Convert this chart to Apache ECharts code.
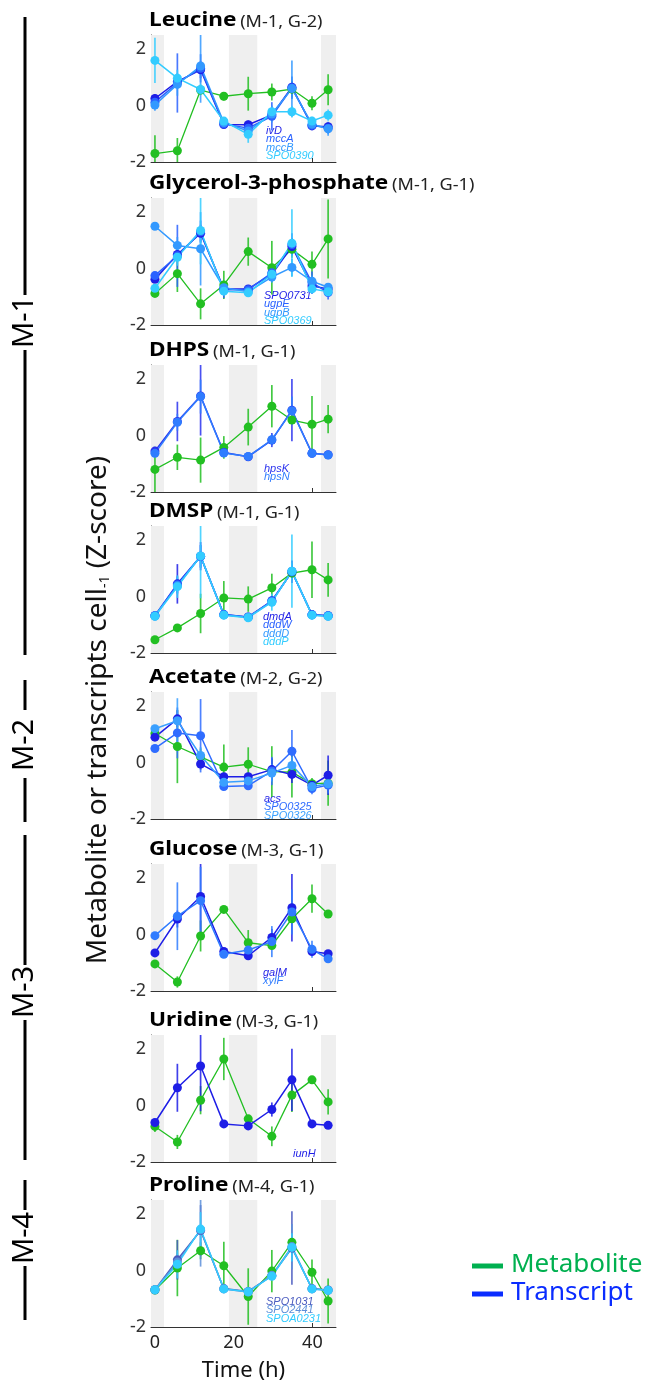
<!DOCTYPE html>
<html>
<head>
<meta charset="utf-8">
<script src="https://cdn.jsdelivr.net/npm/echarts@6/dist/echarts.min.js"></script>
<style>
  html, body { margin: 0; padding: 0; background: #fff; }
  #chart { width: 652px; height: 1385px; }
</style>
</head>
<body>
<div id="chart"></div>
<script>
// sampling times (h) and dark periods
var times = [0, 5.7, 11.6, 17.5, 23.7, 29.7, 34.8, 39.9, 44];
var nightBands = [[-1, 2.3], [18.8, 26], [42.2, 46]];
var xTicks = [0, 20, 40];
var yTicks = [-2, 0, 2];

// Leucine
var leuMet = [-1.7, -1.6, 0.55, 0.33, 0.42, 0.48, 0.58, 0.08, 0.56];
var leuMetErr = [0.65, 0.45, 0.15, 0.15, 0.6, 0.3, 0.3, 0.25, 0.55];
var leuGenes = ['ivD', 'mccA', 'mccB', 'SPO0390'];
var leuTx = [
  [0.25, 0.85, 1.27, -0.67, -0.68, -0.33, 0.65, -0.72, -0.75],
  [0.12, 0.8, 1.32, -0.65, -0.8, -0.38, 0.63, -0.7, -0.8],
  [0.02, 0.75, 1.4, -0.6, -0.9, -0.3, 0.6, -0.66, -0.82],
  [1.6, 0.97, 0.57, -0.55, -1.02, -0.22, -0.22, -0.55, -0.34]
];
var leuTxErr = [
  [0.15, 0.2, 0.3, 0.1, 0.15, 0.1, 0.2, 0.1, 0.1],
  [0.2, 1.05, 0.5, 0.1, 0.2, 0.5, 0.4, 0.15, 0.2],
  [0.2, 0.4, 1.3, 0.15, 0.25, 0.3, 1.0, 0.15, 0.25],
  [0.8, 0.3, 0.2, 0.1, 0.3, 0.1, 0.2, 0.15, 0.2]
];

// Glycerol-3-phosphate
var g3pMet = [-0.88, -0.18, -1.25, -0.58, 0.6, 0.03, 0.68, 0.15, 1.05];
var g3pMetErr = [0.1, 0.65, 0.55, 0.5, 0.5, 0.95, 0.3, 0.45, 1.4];
var g3pGenes = ['SPO0731', 'ugpE', 'ugpB', 'SPO0369'];
var g3pTx = [
  [-0.38, 0.5, 1.25, -0.72, -0.72, -0.2, 0.78, -0.62, -0.72],
  [-0.25, 0.45, 1.3, -0.75, -0.75, -0.15, 0.85, -0.5, -0.85],
  [1.5, 0.82, 0.7, -0.68, -0.82, -0.3, 0.04, -0.45, -0.66],
  [-0.7, 0.4, 1.35, -0.8, -0.86, -0.2, 0.9, -0.72, -0.82]
];
var g3pTxErr = [
  [0.1, 0.2, 0.3, 0.1, 0.1, 0.1, 0.3, 0.1, 0.1],
  [0.1, 1.1, 0.4, 0.3, 0.15, 0.3, 0.4, 0.4, 0.25],
  [0.1, 0.3, 1.3, 0.1, 0.1, 0.2, 0.3, 0.2, 0.1],
  [0.1, 0.3, 1.2, 0.1, 0.1, 0.2, 1.2, 0.1, 0.1]
];

// DHPS
var dhpsMet = [-1.2, -0.77, -0.87, -0.42, 0.3, 1.04, 0.55, 0.4, 0.58];
var dhpsMetErr = [0.8, 0.45, 0.8, 0.4, 0.65, 0.75, 0.1, 1.0, 0.5];
var dhpsGenes = ['hpsK', 'hpsN'];
var dhpsTx = [
  [-0.55, 0.5, 1.4, -0.6, -0.75, -0.16, 0.9, -0.63, -0.68],
  [-0.63, 0.47, 1.38, -0.62, -0.74, -0.15, 0.88, -0.63, -0.69]
];
var dhpsTxErr = [
  [0.1, 0.7, 1.4, 0.1, 0.05, 0.25, 1.1, 0.05, 0.05],
  [0.1, 0.3, 0.6, 0.1, 0.05, 0.2, 0.5, 0.05, 0.05]
];

// DMSP
var dmspMet = [-1.53, -1.11, -0.6, -0.05, -0.09, 0.31, 0.83, 0.95, 0.59];
var dmspMetErr = [0.05, 0.05, 0.7, 0.6, 0.45, 0.5, 0.1, 1.0, 0.6];
var dmspGenes = ['dmdA', 'dddW', 'dddD', 'dddP'];
var dmspTx = [
  [-0.68, 0.45, 1.43, -0.64, -0.72, -0.15, 0.88, -0.64, -0.68],
  [-0.68, 0.42, 1.42, -0.64, -0.73, -0.16, 0.88, -0.65, -0.68],
  [-0.69, 0.38, 1.43, -0.65, -0.73, -0.18, 0.9, -0.65, -0.69],
  [-0.7, 0.35, 1.44, -0.66, -0.75, -0.2, 0.9, -0.66, -0.7]
];
var dmspTxErr = [
  [0.05, 0.7, 0.5, 0.05, 0.05, 0.1, 0.4, 0.05, 0.05],
  [0.05, 0.3, 0.4, 0.05, 0.05, 0.1, 0.3, 0.05, 0.05],
  [0.05, 0.3, 0.4, 0.05, 0.05, 0.1, 0.3, 0.05, 0.05],
  [0.05, 0.4, 1.5, 0.05, 0.05, 0.3, 1.3, 0.05, 0.05]
];

// Acetate
var aceMet = [1.03, 0.57, 0.2, -0.16, -0.06, -0.32, -0.34, -0.75, -0.73];
var aceMetErr = [0.1, 1.3, 0.3, 0.8, 0.6, 0.9, 0.9, 0.2, 0.8];
var aceGenes = ['acs', 'SPO0325', 'SPO0326'];
var aceTx = [
  [0.9, 1.55, -0.05, -0.5, -0.5, -0.25, -0.42, -0.8, -0.45],
  [0.5, 1.05, 0.95, -0.85, -0.82, -0.3, 0.4, -0.92, -0.8],
  [1.2, 1.48, 0.25, -0.7, -0.65, -0.37, -0.1, -0.85, -0.75]
];
var aceTxErr = [
  [0.1, 0.3, 0.2, 0.1, 0.1, 0.4, 0.3, 0.1, 0.7],
  [0.1, 0.9, 1.3, 0.1, 0.1, 0.5, 0.75, 0.2, 0.3],
  [0.1, 0.8, 0.3, 0.1, 0.1, 0.3, 0.3, 0.15, 0.2]
];

// Glucose
var gluMet = [-1.04, -1.68, -0.05, 0.89, -0.29, -0.39, 0.56, 1.27, 0.73];
var gluMetErr = [0.05, 0.2, 0.55, 0.05, 0.45, 0.1, 0.1, 0.5, 0.05];
var gluGenes = ['galM', 'xylF'];
var gluTx = [
  [-0.65, 0.55, 1.35, -0.6, -0.75, -0.1, 0.95, -0.6, -0.68],
  [-0.04, 0.65, 1.2, -0.7, -0.55, -0.25, 0.8, -0.52, -0.86]
];
var gluTxErr = [
  [0.05, 0.3, 1.5, 0.05, 0.05, 0.3, 1.2, 0.1, 0.05],
  [0.05, 1.2, 1.2, 0.05, 0.05, 0.55, 0.8, 0.3, 0.05]
];

// Uridine
var uriMet = [-0.74, -1.29, 0.19, 1.65, -0.47, -1.09, 0.37, 0.91, 0.13];
var uriMetErr = [0.2, 0.25, 0.5, 0.75, 0.1, 0.35, 0.6, 0.1, 0.45];
var uriGenes = ['iunH'];
var uriTx = [
  [-0.6, 0.63, 1.4, -0.65, -0.72, -0.14, 0.91, -0.65, -0.7]
];
var uriTxErr = [
  [0.05, 0.85, 1.6, 0.05, 0.05, 0.25, 1.1, 0.05, 0.05]
];

// Proline
var proMet = [-0.69, 0.09, 0.7, 0.17, -0.92, -0.02, 1.0, -0.06, -1.08];
var proMetErr = [0.05, 1.0, 0.3, 0.85, 1.0, 0.75, 0.1, 0.45, 0.8];
var proGenes = ['SPO1031', 'SPO2441', 'SPOA0231'];
var proTx = [
  [-0.68, 0.38, 1.42, -0.64, -0.74, -0.18, 0.8, -0.64, -0.69],
  [-0.68, 0.3, 1.44, -0.65, -0.76, -0.17, 0.85, -0.65, -0.7],
  [-0.68, 0.22, 1.47, -0.65, -0.75, -0.2, 0.82, -0.65, -0.7]
];
var proTxErr = [
  [0.05, 0.7, 0.9, 0.05, 0.05, 0.1, 1.3, 0.05, 0.05],
  [0.05, 0.3, 1.3, 0.05, 0.05, 0.1, 0.8, 0.05, 0.05],
  [0.05, 0.5, 0.6, 0.05, 0.05, 0.1, 0.5, 0.05, 0.05]
];

// colours
var metColor = '#22bf22';
var blue4 = ['#1e1ee6', '#2a62ff', '#3399ff', '#33ccff'];

var panels = [
  {name: 'Leucine', tag: '(M-1, G-2)', met: leuMet, metErr: leuMetErr, genes: leuGenes, tx: leuTx, txErr: leuTxErr, colors: blue4},
  {name: 'Glycerol-3-phosphate', tag: '(M-1, G-1)', met: g3pMet, metErr: g3pMetErr, genes: g3pGenes, tx: g3pTx, txErr: g3pTxErr, colors: blue4},
  {name: 'DHPS', tag: '(M-1, G-1)', met: dhpsMet, metErr: dhpsMetErr, genes: dhpsGenes, tx: dhpsTx, txErr: dhpsTxErr, colors: ['#2a32ee', '#2f7cff']},
  {name: 'DMSP', tag: '(M-1, G-1)', met: dmspMet, metErr: dmspMetErr, genes: dmspGenes, tx: dmspTx, txErr: dmspTxErr, colors: blue4},
  {name: 'Acetate', tag: '(M-2, G-2)', met: aceMet, metErr: aceMetErr, genes: aceGenes, tx: aceTx, txErr: aceTxErr, colors: ['#1e1ee6', '#2f6cff', '#3aa0ff']},
  {name: 'Glucose', tag: '(M-3, G-1)', met: gluMet, metErr: gluMetErr, genes: gluGenes, tx: gluTx, txErr: gluTxErr, colors: ['#1e1ee6', '#2f7cff']},
  {name: 'Uridine', tag: '(M-3, G-1)', met: uriMet, metErr: uriMetErr, genes: uriGenes, tx: uriTx, txErr: uriTxErr, colors: ['#1e1ee6']},
  {name: 'Proline', tag: '(M-4, G-1)', met: proMet, metErr: proMetErr, genes: proGenes, tx: proTx, txErr: proTxErr, colors: ['#4a5bbf', '#5c8fd9', '#33ccff']}
];

// layout
var gridBottoms = [162, 325, 492, 653, 819, 991, 1162, 1327];
var gridLeft = 151, gridWidth = 185, gridHeight = 127;
var geneLabelPos = [[266, 131], [264, 296], [264, 469], [263, 617], [264, 799], [263, 973], [293, 1154], [266, 1302]];
var bracketLines = [[17, 295], [350, 655], [680, 710], [778, 822], [835, 965], [1020, 1160], [1180, 1210], [1266, 1320]];
var bracketLabels = [['M-1', 322], ['M-2', 745], ['M-3', 992], ['M-4', 1238]];

var Y_MIN = -2, Y_MAX = 2.5;
var FONT = '"Noto Sans", sans-serif';

function pairs(vals) {
  return vals.map(function(v, i) { return [times[i], v]; });
}
function errRows(vals, errs) {
  return vals.map(function(v, i) { return [times[i], v - errs[i], v + errs[i]]; });
}

function renderErr(params, api) {
  var x = api.value(0);
  var lo = Math.max(api.value(1), Y_MIN);
  var hi = Math.min(api.value(2), Y_MAX);
  var p1 = api.coord([x, lo]);
  var p2 = api.coord([x, hi]);
  return {
    type: 'line',
    shape: {x1: p1[0], y1: p1[1], x2: p2[0], y2: p2[1]},
    style: {stroke: api.visual('color'), lineWidth: 1.7, opacity: 0.85}
  };
}

var grids = [], xAxes = [], yAxes = [], series = [], graphics = [];
var last = panels.length - 1;

panels.forEach(function(p, i) {
  var top = gridBottoms[i] - gridHeight;
  grids.push({left: gridLeft, top: top, width: gridWidth, height: gridHeight});

  xAxes.push({
    type: 'value', gridIndex: i, min: -1, max: 46,
    axisLine: {show: true, onZero: false, lineStyle: {color: '#333', width: 1}},
    axisTick: {show: true, inside: true, length: 4, customValues: xTicks, lineStyle: {color: '#333'}},
    axisLabel: {show: i === last, customValues: xTicks, fontSize: 18, color: '#222', margin: 7, fontFamily: FONT},
    splitLine: {show: false},
    name: i === last ? 'Time (h)' : '',
    nameLocation: 'middle', nameGap: 33,
    nameTextStyle: {fontSize: 22, color: '#111', fontFamily: FONT}
  });
  yAxes.push({
    type: 'value', gridIndex: i, min: Y_MIN, max: Y_MAX,
    axisLine: {show: true, onZero: false, lineStyle: {color: '#333', width: 1}},
    axisTick: {show: true, inside: true, length: 4, customValues: yTicks, lineStyle: {color: '#333'}},
    axisLabel: {customValues: yTicks, fontSize: 18, color: '#333', margin: 5, fontFamily: FONT},
    splitLine: {show: false}
  });

  // metabolite error bars + line (carries the night shading)
  series.push({
    type: 'custom', xAxisIndex: i, yAxisIndex: i,
    renderItem: renderErr, encode: {x: 0, y: [1, 2]},
    itemStyle: {color: metColor}, silent: true,
    data: errRows(p.met, p.metErr)
  });
  series.push({
    type: 'line', xAxisIndex: i, yAxisIndex: i,
    symbol: 'circle', symbolSize: 9, silent: true,
    lineStyle: {color: metColor, width: 1.3},
    itemStyle: {color: metColor},
    data: pairs(p.met),
    markArea: {
      silent: true,
      itemStyle: {color: '#efefef'},
      data: nightBands.map(function(b) { return [{xAxis: b[0]}, {xAxis: b[1]}]; })
    }
  });

  // transcripts
  p.genes.forEach(function(g, k) {
    var c = p.colors[k];
    series.push({
      type: 'custom', xAxisIndex: i, yAxisIndex: i,
      renderItem: renderErr, encode: {x: 0, y: [1, 2]},
      itemStyle: {color: c}, silent: true,
      data: errRows(p.tx[k], p.txErr[k])
    });
    series.push({
      type: 'line', name: g, xAxisIndex: i, yAxisIndex: i,
      symbol: 'circle', symbolSize: 9, silent: true,
      lineStyle: {color: c, width: 1.5},
      itemStyle: {color: c},
      data: pairs(p.tx[k])
    });
    graphics.push({
      type: 'text', x: geneLabelPos[i][0], y: geneLabelPos[i][1] + k * 8.3,
      style: {
        text: g, fill: c, font: 'italic 11px "Liberation Sans", Arial, sans-serif',
        verticalAlign: 'middle'
      }
    });
  });

  // panel title (reference type is a wide face, so stretch a little)
  graphics.push({
    type: 'text', x: 149, y: top - 15, scaleX: 1.13,
    style: {
      text: '{b|' + p.name + '} {n|' + p.tag + '}',
      verticalAlign: 'middle',
      rich: {
        b: {fontSize: 20, fontWeight: 'bold', fontFamily: FONT, fill: '#000', verticalAlign: 'bottom'},
        n: {fontSize: 16, fontFamily: FONT, fill: '#222', verticalAlign: 'bottom'}
      }
    }
  });
});

// module brackets on the left
bracketLines.forEach(function(s) {
  graphics.push({type: 'line', shape: {x1: 25, y1: s[0], x2: 25, y2: s[1]}, style: {stroke: '#000', lineWidth: 3}});
});
bracketLabels.forEach(function(l) {
  graphics.push({
    type: 'text', x: 25, y: l[1], rotation: Math.PI / 2,
    style: {text: l[0], font: '29px ' + FONT, fill: '#000', align: 'center', verticalAlign: 'middle'}
  });
});

// shared y title
graphics.push({
  type: 'text', x: 98, y: 710, rotation: Math.PI / 2,
  style: {
    text: 'Metabolite or transcripts cell{s|-1} (Z-score)',
    font: '28px ' + FONT, fill: '#111', align: 'center', verticalAlign: 'middle',
    rich: {s: {fontSize: 14, fontFamily: FONT, fill: '#111', verticalAlign: 'bottom'}}
  }
});

// legend
graphics.push({type: 'line', shape: {x1: 472, y1: 1266, x2: 503, y2: 1266}, style: {stroke: '#00b050', lineWidth: 5}});
graphics.push({type: 'line', shape: {x1: 472, y1: 1294, x2: 503, y2: 1294}, style: {stroke: '#0a2cff', lineWidth: 5}});
graphics.push({type: 'text', x: 511, y: 1265, style: {text: 'Metabolite', font: '26px ' + FONT, fill: '#00b050', verticalAlign: 'middle'}});
graphics.push({type: 'text', x: 511, y: 1293, style: {text: 'Transcript', font: '26px ' + FONT, fill: '#0a2cff', verticalAlign: 'middle'}});

var chart = echarts.init(document.getElementById('chart'), null, {renderer: 'canvas'});
chart.setOption({
  animation: false,
  backgroundColor: '#fff',
  grid: grids,
  xAxis: xAxes,
  yAxis: yAxes,
  series: series,
  graphic: graphics
});
</script>
</body>
</html>
